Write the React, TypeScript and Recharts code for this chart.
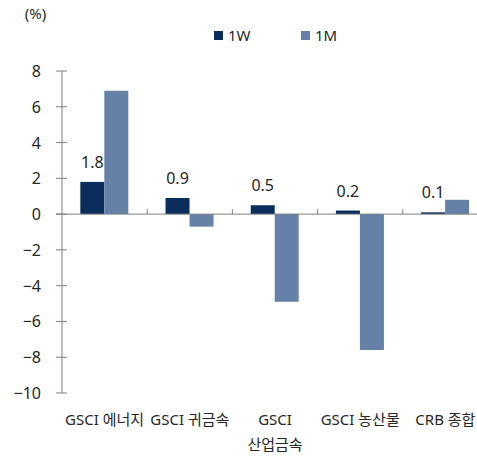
import React from 'react';
import { BarChart, Bar, XAxis, YAxis, ReferenceLine, LabelList, Customized } from 'recharts';

const categories = ['GSCI 에너지', 'GSCI 귀금속', 'GSCI\n산업금속', 'GSCI 농산물', 'CRB 종합'];
const weekChange = [1.8, 0.9, 0.5, 0.2, 0.1];
const monthChange = [6.9, -0.7, -4.9, -7.6, 0.8];
const seriesNames = ['1W', '1M'];
const yTicks = [8, 6, 4, 2, 0, -2, -4, -6, -8, -10];
const unitLabel = '(%)';

const COLOR_1W = '#0b2d5b';
const COLOR_1M = '#6581a8';
const TEXT = '#262626';
const AXIS = '#7f7f7f';
const FONT = "'Noto Sans', 'Noto Sans CJK KR', sans-serif";

const data = categories.map((name, i) => ({
  name,
  w: weekChange[i],
  m: monthChange[i],
}));

const YTick: React.FC<any> = ({ x, y, payload }) => (
  <g>
    <line x1={x - 6} y1={y} x2={x + 5} y2={y} stroke={AXIS} strokeWidth={1} />
    <text x={x - 21} y={y} dy={6} textAnchor="end" fill={TEXT} fontSize={16} fontFamily={FONT}>
      {payload.value < 0 ? `\u2212${Math.abs(payload.value)}` : payload.value}
    </text>
  </g>
);

const XTick: React.FC<any> = ({ x, y, payload }) => {
  const lines = String(payload.value).split('\n');
  return (
    <text x={x} y={y} textAnchor="middle" fill={TEXT} fontSize={15} fontFamily={FONT}>
      {lines.map((l, i) => (
        <tspan key={i} x={x} dy={i === 0 ? 32 : 25}>
          {l}
        </tspan>
      ))}
    </text>
  );
};

const ZeroLine: React.FC<any> = ({ x1, y1, x2 }) => {
  const step = (x2 - x1) / categories.length;
  return (
    <g>
      <line x1={x1 - 6} y1={y1} x2={x2} y2={y1} stroke={AXIS} strokeWidth={1} />
      {categories.slice(1).map((_, i) => (
        <line key={i} x1={x1 + step * (i + 1)} y1={y1 - 5} x2={x1 + step * (i + 1)} y2={y1} stroke={AXIS} strokeWidth={1} />
      ))}
    </g>
  );
};

const LegendBox = () => {
  const colors = [COLOR_1W, COLOR_1M];
  const xs = [214, 301];
  return (
    <g>
      {seriesNames.map((name, i) => (
        <g key={name}>
          <rect x={xs[i]} y={31} width={9} height={9} fill={colors[i]} />
          <text x={xs[i] + 14} y={41} fill={TEXT} fontSize={15} fontFamily={FONT}>
            {name}
          </text>
        </g>
      ))}
      <text x={35.5} y={19} textAnchor="middle" fill={TEXT} fontSize={15} fontFamily={FONT}>
        {unitLabel}
      </text>
    </g>
  );
};

export default function App() {
  return (
    <div style={{ position: 'absolute', left: 0, top: 0, width: 477, height: 456, overflow: 'hidden', background: '#fff' }}>
      <BarChart
        width={500}
        height={456}
        data={data}
        margin={{ top: 71, right: 12, bottom: 0, left: 0 }}
        barCategoryGap="21.5%"
        barGap={0}
      >
        <XAxis
          dataKey="name"
          height={63}
          axisLine={false}
          tickLine={false}
          tickSize={0}
          tickMargin={0}
          interval={0}
          tick={<XTick />}
        />
        <YAxis
          width={62}
          domain={[-10, 8]}
          ticks={yTicks}
          interval={0}
          axisLine={{ stroke: AXIS }}
          tickLine={false}
          tickSize={0}
          tickMargin={0}
          tick={<YTick />}
        />
        <Bar dataKey="w" name={seriesNames[0]} fill={COLOR_1W} isAnimationActive={false}>
          <LabelList
            dataKey="w"
            position="top"
            offset={14}
            formatter={(v: any) => Number(v).toFixed(1)}
            style={{ fill: TEXT, fontSize: 16, fontFamily: FONT }}
          />
        </Bar>
        <Bar dataKey="m" name={seriesNames[1]} fill={COLOR_1M} isAnimationActive={false} />
        <ReferenceLine y={0} shape={<ZeroLine />} ifOverflow="visible" />
        <Customized component={LegendBox} />
      </BarChart>
    </div>
  );
}
